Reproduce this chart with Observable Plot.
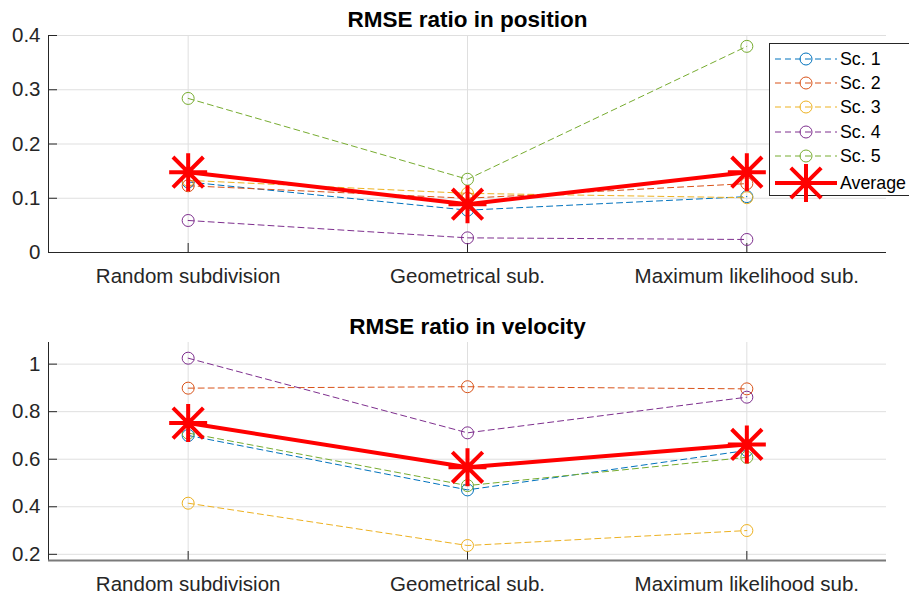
<!DOCTYPE html>
<html>
<head>
<meta charset="utf-8">
<script src="https://cdn.jsdelivr.net/npm/d3@7"></script>
<script src="https://cdn.jsdelivr.net/npm/@observablehq/plot@0.6"></script>
<style>
  html, body { margin: 0; padding: 0; background: #fff; overflow: hidden; }
  #wrap { position: relative; width: 909px; height: 595px; overflow: hidden; font-family: "Liberation Sans", Arial, sans-serif; }
  #wrap svg { display: block; }
  #legend { position: absolute; left: 769px; top: 43px; overflow: visible; }
</style>
</head>
<body>
<div id="wrap"></div>
<script>
// ---- data ----
const categories = ["Random subdivision", "Geometrical sub.", "Maximum likelihood sub."];
const seriesNames = ["Sc. 1", "Sc. 2", "Sc. 3", "Sc. 4", "Sc. 5"];
const seriesColors = ["#0072BD", "#D95319", "#EDB120", "#7E2F8E", "#77AC30"];

const positionSc1 = [0.130, 0.078, 0.103];
const positionSc2 = [0.123, 0.100, 0.127];
const positionSc3 = [0.133, 0.109, 0.101];
const positionSc4 = [0.059, 0.027, 0.024];
const positionSc5 = [0.284, 0.135, 0.380];
const positionAvg = [0.148, 0.089, 0.148];

const velocitySc1 = [0.700, 0.471, 0.637];
const velocitySc2 = [0.899, 0.905, 0.896];
const velocitySc3 = [0.415, 0.237, 0.300];
const velocitySc4 = [1.025, 0.711, 0.861];
const velocitySc5 = [0.710, 0.489, 0.608];
const velocityAvg = [0.752, 0.566, 0.662];

const positionTicks = [0, 0.1, 0.2, 0.3, 0.4];
const velocityTicks = [0.2, 0.4, 0.6, 0.8, 1];
const positionTitle = "RMSE ratio in position";
const velocityTitle = "RMSE ratio in velocity";
const avgName = "Average";

// ---- helpers ----
const asterisk = {
  draw(ctx, size) {
    const r = Math.sqrt(size / Math.PI);
    const d = r * 0.8;
    ctx.moveTo(-r, 0); ctx.lineTo(r, 0);
    ctx.moveTo(0, -r); ctx.lineTo(0, r);
    ctx.moveTo(-d, -d); ctx.lineTo(d, d);
    ctx.moveTo(-d, d); ctx.lineTo(d, -d);
  }
};

function toRows(series) {
  const rows = [];
  series.forEach((vals, s) => vals.forEach((v, i) => rows.push({series: seriesNames[s], x: i + 1, y: v})));
  return rows;
}
function avgRows(vals) { return vals.map((v, i) => ({x: i + 1, y: v})); }

const AX = "#262626";
const GRID = "#dfdfdf";

function chart({series, avg, ticks, yDomain, title, height, marginTop, marginBottom, bottomStroke, bottomWidth}) {
  const rows = toRows(series);
  return Plot.plot({
    width: 909,
    height,
    marginLeft: 48,
    marginRight: 23,
    marginTop,
    marginBottom,
    style: {fontFamily: "'Liberation Sans', Arial, sans-serif", fontSize: "20.5px", color: AX, background: "#fff", overflow: "visible"},
    x: {domain: [0.5, 3.5], label: null},
    y: {domain: yDomain, label: null},
    color: {domain: seriesNames, range: seriesColors},
    marks: [
      Plot.gridY(ticks, {stroke: GRID, strokeOpacity: 1}),
      Plot.gridX([1, 2, 3], {stroke: GRID, strokeOpacity: 1}),
      Plot.axisY(ticks, {label: null, tickSize: -9, tickPadding: 17, stroke: AX, fill: AX, tickFormat: d3.format("")}),
      Plot.axisX([1, 2, 3], {label: null, tickSize: -9, tickPadding: 25, stroke: AX, fill: AX, tickFormat: (d) => categories[d - 1]}),
      Plot.ruleX([0.5], {stroke: AX, strokeWidth: 1}),
      Plot.ruleY([yDomain[0]], {stroke: bottomStroke, strokeWidth: bottomWidth}),
      Plot.line(rows, {x: "x", y: "y", z: "series", stroke: "series", strokeWidth: 1, strokeDasharray: "6,4"}),
      Plot.dot(rows, {x: "x", y: "y", stroke: "series", r: 6, strokeWidth: 1, fill: "none"}),
      Plot.line(avgRows(avg), {x: "x", y: "y", stroke: "#ff0000", strokeWidth: 4}),
      Plot.dot(avgRows(avg), {x: "x", y: "y", symbol: asterisk, r: 19, stroke: "#ff0000", strokeWidth: 4, fill: "none"}),
      Plot.text([title], {frameAnchor: "top", lineAnchor: "bottom", dy: -9, fontSize: 22.5, fontWeight: "bold", fill: "#000"})
    ]
  });
}

const wrap = document.getElementById("wrap");

wrap.appendChild(chart({
  series: [positionSc1, positionSc2, positionSc3, positionSc4, positionSc5],
  avg: positionAvg, ticks: positionTicks, yDomain: [0, 0.4], title: positionTitle,
  height: 298, marginTop: 35, marginBottom: 46, bottomStroke: AX, bottomWidth: 1
}));

wrap.appendChild(chart({
  series: [velocitySc1, velocitySc2, velocitySc3, velocitySc4, velocitySc5],
  avg: velocityAvg, ticks: velocityTicks, yDomain: [0.174, 1.091], title: velocityTitle,
  height: 297, marginTop: 44, marginBottom: 35, bottomStroke: "#7a7a7a", bottomWidth: 2
}));

// ---- legend (overlay inside the top axes) ----
const lg = d3.select(wrap).append("svg").attr("id", "legend").attr("width", 160).attr("height", 170);
lg.append("rect").attr("x", 0.5).attr("y", 0.5).attr("width", 170).attr("height", 152)
  .attr("fill", "#fff").attr("stroke", AX).attr("stroke-width", 1);
const entries = seriesNames.map((n, i) => ({name: n, color: seriesColors[i], avg: false}))
  .concat([{name: avgName, color: "#ff0000", avg: true}]);
const ys = [16, 40, 64, 89, 113, 140];
entries.forEach((e, i) => {
  const g = lg.append("g").attr("transform", `translate(0,${ys[i]})`);
  if (!e.avg) {
    g.append("line").attr("x1", 6).attr("x2", 68).attr("y1", 0).attr("y2", 0)
      .attr("stroke", e.color).attr("stroke-width", 1).attr("stroke-dasharray", "6,4");
    g.append("circle").attr("cx", 37).attr("cy", 0).attr("r", 6).attr("fill", "none")
      .attr("stroke", e.color).attr("stroke-width", 1);
  } else {
    g.append("line").attr("x1", 6).attr("x2", 68).attr("y1", 0).attr("y2", 0)
      .attr("stroke", e.color).attr("stroke-width", 4);
    const p = d3.path();
    asterisk.draw(p, 19 * 19 * Math.PI);
    g.append("path").attr("d", p.toString()).attr("transform", "translate(37,0)")
      .attr("fill", "none").attr("stroke", e.color).attr("stroke-width", 4);
  }
  g.append("text").attr("x", 71).attr("y", 0).attr("dy", "0.35em")
    .attr("font-size", 17.8).attr("font-family", "'Liberation Sans', Arial, sans-serif").attr("fill", "#000").text(e.name);
});
</script>
</body>
</html>
